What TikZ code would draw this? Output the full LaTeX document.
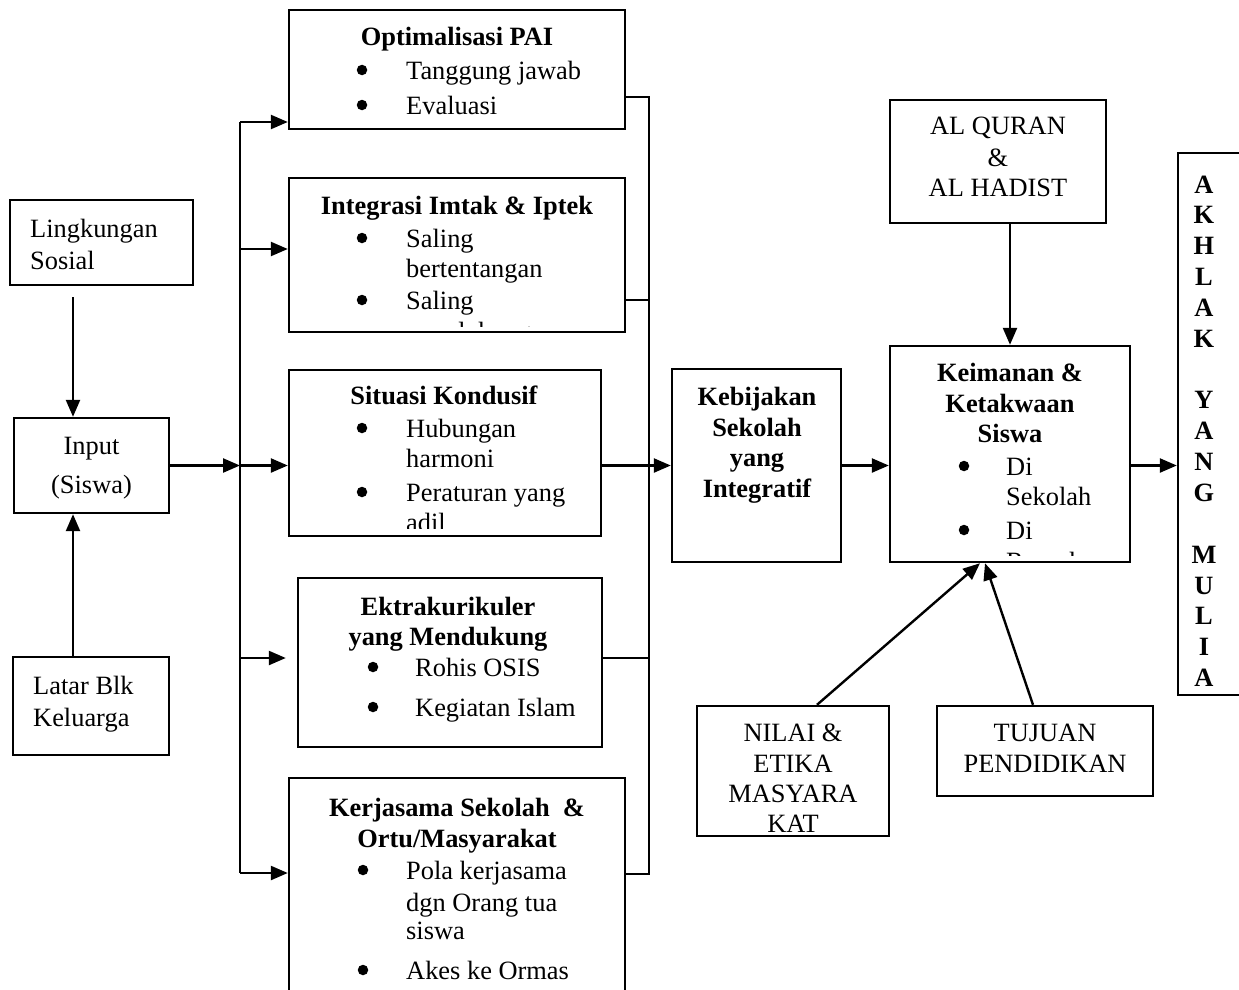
\documentclass[tikz,border=0pt]{standalone}
\usepackage{fontspec}
\setmainfont{Liberation Serif}
\usetikzlibrary{arrows.meta,calc}
\tikzset{
  box/.style={draw, line width=2.4pt, rectangle, inner sep=0pt},
  ln/.style={line width=2.4pt},
  arr/.style={line width=2.4pt, -{Triangle[length=17pt,width=14pt]}},
  tx/.style={inner sep=0pt, font=\fontsize{26.4}{31}\selectfont},
  C/.style={tx, anchor=base},
  L/.style={tx, anchor=base west},
  CB/.style={C, font=\fontsize{26.4}{31}\selectfont\bfseries},
  bul/.style={circle, fill=black, draw=none, inner sep=0pt, minimum size=10.5pt}
}
\begin{document}
\begin{tikzpicture}[x=1pt,y=-1pt]
\clip (0,0) rectangle (1239,990);
\fill[white] (0,0) rectangle (1239,990);

% ---------- boxes ----------
\node[box, minimum width=183pt, minimum height=85pt]  (ling)   at (101.5,242.5) {};
\node[box, minimum width=155pt, minimum height=95pt]  (inp)    at (91.5,465.5) {};
\node[box, minimum width=156pt, minimum height=98pt]  (lat)    at (91,706) {};
\node[box, minimum width=336pt, minimum height=119pt] (opt)    at (457,69.5) {};
\node[box, minimum width=336pt, minimum height=154pt] (integ)  at (457,255) {};
\node[box, minimum width=312pt, minimum height=166pt] (situ)   at (445,453) {};
\node[box, minimum width=304pt, minimum height=169pt] (ekst)   at (450,662.5) {};
\node[box, minimum width=336pt, minimum height=232pt] (kerja)  at (457,894) {};
\node[box, minimum width=169pt, minimum height=193pt] (kebij)  at (756.5,465.5) {};
\node[box, minimum width=240pt, minimum height=216pt] (keim)   at (1010,454) {};
\node[box, minimum width=216pt, minimum height=123pt] (quran)  at (998,161.5) {};
\node[box, minimum width=72pt,  minimum height=542pt] (akh)    at (1214,424) {};
\node[box, minimum width=192pt, minimum height=130pt] (nilai)  at (793,771) {};
\node[box, minimum width=216pt, minimum height=90pt]  (tujuan) at (1045,751) {};

% ---------- texts: left column ----------
\node[L] (tl1) at (30,237) {Lingkungan};
\node[L] (tl2) at (30,269) {Sosial};
\node[C] (ti1) at (91.5,454) {Input};
\node[C] (ti2) at (91.5,493) {(Siswa)};
\node[L] (tb1) at (33,694) {Latar Blk};
\node[L] (tb2) at (33,726) {Keluarga};

% ---------- Optimalisasi ----------
\node[CB] (to0) at (457,46) {Optimalisasi PAI};
\node[bul] (bo1) at (362,70) {};
\node[L] (to1) at (406,79) {Tanggung jawab};
\node[bul] (bo2) at (362,105) {};
\node[L] (to2) at (406,114) {Evaluasi};

% ---------- Integrasi ----------
\node[CB] (tg0) at (457,214) {Integrasi Imtak \& Iptek};
\node[bul] (bg1) at (362,238) {};
\node[L] (tg1) at (406,247) {Saling};
\node[L] (tg2) at (406,277) {bertentangan};
\node[bul] (bg3) at (362,300) {};
\node[L] (tg3) at (406,309) {Saling};
\begin{scope}
\clip (289,178) rectangle (625,326);
\node[L] (tg4) at (406,340) {mendukung};
\end{scope}

% ---------- Situasi ----------
\node[CB] (ts0) at (444,404) {Situasi Kondusif};
\node[bul] (bs1) at (362,428) {};
\node[L] (ts1) at (406,437) {Hubungan};
\node[L] (ts2) at (406,467) {harmoni};
\node[bul] (bs3) at (362,492) {};
\node[L] (ts3) at (406,501) {Peraturan yang};
\begin{scope}
\clip (289,370) rectangle (601,528);
\node[L] (ts4) at (406,531) {adil};
\end{scope}

% ---------- Ekstrakurikuler ----------
\node[CB] (te0) at (448,615) {Ektrakurikuler};
\node[CB] (te1) at (448,645) {yang Mendukung};
\node[bul] (be2) at (373,667) {};
\node[L] (te2) at (415,676) {Rohis OSIS};
\node[bul] (be3) at (373,707) {};
\node[L] (te3) at (415,716) {Kegiatan Islam};

% ---------- Kerjasama ----------
\node[CB] (tk0) at (457,816) {Kerjasama Sekolah\ \ \&};
\node[CB] (tk1) at (457,847) {Ortu/Masyarakat};
\node[bul] (bk2) at (363,870) {};
\node[L] (tk2) at (406,879) {Pola kerjasama};
\node[L] (tk3) at (406,911) {dgn Orang tua};
\node[L] (tk4) at (406,939) {siswa};
\node[bul] (bk5) at (363,970) {};
\node[L] (tk5) at (406,979) {Akes ke Ormas};

% ---------- Kebijakan ----------
\node[CB] (tj0) at (757,405) {Kebijakan};
\node[CB] (tj1) at (757,436) {Sekolah};
\node[CB] (tj2) at (757,466) {yang};
\node[CB] (tj3) at (757,497) {Integratif};

% ---------- Keimanan ----------
\node[CB] (tm0) at (1010,381) {Keimanan \&};
\node[CB] (tm1) at (1010,412) {Ketakwaan};
\node[CB] (tm2) at (1010,442) {Siswa};
\node[bul] (bm3) at (964,466) {};
\node[L] (tm3) at (1006,475) {Di};
\node[L] (tm4) at (1006,505) {Sekolah};
\node[bul] (bm5) at (964,530) {};
\node[L] (tm5) at (1006,539) {Di};
\begin{scope}
\clip (890,346) rectangle (1130,555);
\node[L] (tm6) at (1006,570) {Rumah};
\end{scope}

% ---------- Al Quran ----------
\node[C] (tq0) at (998,134) {AL QURAN};
\node[C] (tq1) at (998,166) {\&};
\node[C] (tq2) at (998,196) {AL HADIST};

% ---------- Nilai / Tujuan ----------
\node[C] (tn0) at (793,741) {NILAI \&};
\node[C] (tn1) at (793,772) {ETIKA};
\node[C] (tn2) at (793,802) {MASYARA};
\node[C] (tn3) at (793,832) {KAT};
\node[C] (tt0) at (1045,741) {TUJUAN};
\node[C] (tt1) at (1045,772) {PENDIDIKAN};

% ---------- Akhlak ----------
\foreach \ch [count=\i] in {A,K,H,L,A,K,{},Y,A,N,G,{},M,U,L,I,A}{
  \node[CB] (ak\i) at (1204,{193+(\i-1)*30.85}) {\ch};
}

% ---------- connectors ----------
\coordinate (colL) at (73,0);
\draw[arr] ([yshift=-11pt]ling.south -| colL) -- (inp.north -| colL);
\draw[arr] (lat.north -| colL) -- (inp.south -| colL);

\coordinate (btop) at (240,122);
\coordinate (b2)   at (240,249);
\coordinate (bin)  at (240,465.5);
\coordinate (b4)   at (240,658);
\coordinate (bbot) at (240,873);
\draw[arr] (inp.east) -- (bin);
\draw[ln] (btop) -- (bbot);
\draw[arr] (btop) -- (btop -| opt.west);
\draw[arr] (b2) -- (b2 -| integ.west);
\draw[arr] (bin) -- (bin -| situ.west);
\draw[arr] (b4) -- ([xshift=-11pt]b4 -| ekst.west);
\draw[arr] (bbot) -- (bbot -| kerja.west);

\coordinate (rtop) at (649,97);
\coordinate (r2)   at (649,300);
\coordinate (r4)   at (649,658);
\coordinate (rbot) at (649,874);
\draw[ln] (opt.east |- rtop) -- (rtop) -- (rbot) -- (kerja.east |- rbot);
\draw[ln] (integ.east |- r2) -- (r2);
\draw[ln] (ekst.east |- r4) -- (r4);
\draw[arr] (situ.east |- kebij.west) -- (kebij.west);

\draw[arr] (kebij.east) -- (kebij.east -| keim.west);
\draw[arr] (keim.east |- kebij.east) -- (kebij.east -| akh.west);
\draw[arr] (keim.north |- quran.south) -- (keim.north);
\draw[arr] ([xshift=24pt]nilai.north) -- ([xshift=-30pt]keim.south);
\draw[arr] ([xshift=-12pt]tujuan.north) -- ([xshift=-25pt]keim.south);
\end{tikzpicture}
\end{document}
